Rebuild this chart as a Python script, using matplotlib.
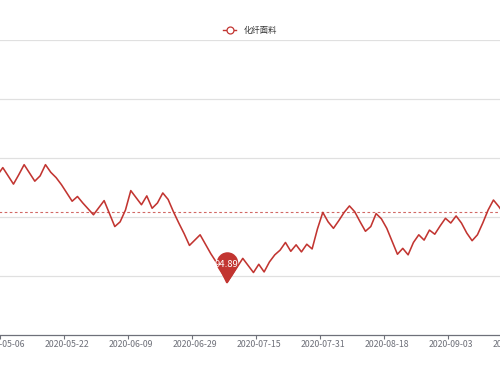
import numpy as np
import matplotlib
matplotlib.use("Agg")
import matplotlib.pyplot as plt
from matplotlib.path import Path
from matplotlib.lines import Line2D

plt.rcParams['font.family'] = ['Noto Sans CJK SC', 'DejaVu Sans']

series_name = "化纤面料"

dates = [
    "2020-04-30",
    "2020-05-06", "2020-05-07", "2020-05-08", "2020-05-11", "2020-05-12", "2020-05-13",
    "2020-05-14", "2020-05-15", "2020-05-18", "2020-05-19", "2020-05-20", "2020-05-21",
    "2020-05-22", "2020-05-25", "2020-05-26", "2020-05-27", "2020-05-28", "2020-05-29",
    "2020-06-01", "2020-06-02", "2020-06-03", "2020-06-04", "2020-06-05", "2020-06-08",
    "2020-06-09", "2020-06-10", "2020-06-11", "2020-06-12", "2020-06-15", "2020-06-16",
    "2020-06-17", "2020-06-18", "2020-06-19", "2020-06-22", "2020-06-23", "2020-06-24",
    "2020-06-29", "2020-06-30", "2020-07-01", "2020-07-02", "2020-07-03", "2020-07-06",
    "2020-07-07", "2020-07-08", "2020-07-09", "2020-07-10", "2020-07-13", "2020-07-14",
    "2020-07-15", "2020-07-16", "2020-07-17", "2020-07-20", "2020-07-21", "2020-07-22",
    "2020-07-23", "2020-07-24", "2020-07-27", "2020-07-28", "2020-07-29", "2020-07-30",
    "2020-07-31", "2020-08-03", "2020-08-04", "2020-08-05", "2020-08-06", "2020-08-07",
    "2020-08-10", "2020-08-11", "2020-08-12", "2020-08-13", "2020-08-14", "2020-08-17",
    "2020-08-18", "2020-08-19", "2020-08-20", "2020-08-21", "2020-08-24", "2020-08-25",
    "2020-08-26", "2020-08-27", "2020-08-28", "2020-08-31", "2020-09-01", "2020-09-02",
    "2020-09-03", "2020-09-04", "2020-09-07", "2020-09-08", "2020-09-09", "2020-09-10",
    "2020-09-11", "2020-09-14", "2020-09-15", "2020-09-16", "2020-09-17", "2020-09-18",
    "2020-09-21",
]

values = [
    96.71,
    96.84, 96.70, 96.56, 96.72, 96.89, 96.75, 96.61, 96.70, 96.89, 96.76,
    96.67, 96.55, 96.41, 96.27, 96.35, 96.24, 96.14, 96.04, 96.16, 96.28,
    96.06, 95.84, 95.92, 96.12, 96.45, 96.33, 96.21, 96.36, 96.15, 96.24,
    96.41, 96.30, 96.09, 95.90, 95.72, 95.52, 95.61, 95.70, 95.54, 95.38,
    95.24, 95.08, 94.89, 95.02, 95.16, 95.30, 95.18, 95.06, 95.20, 95.07,
    95.24, 95.36, 95.44, 95.57, 95.42, 95.53, 95.41, 95.54, 95.46, 95.80,
    96.08, 95.92, 95.81, 95.94, 96.08, 96.19, 96.09, 95.92, 95.76, 95.84,
    96.06, 95.97, 95.81, 95.59, 95.37, 95.47, 95.36, 95.57, 95.70, 95.61,
    95.78, 95.71, 95.85, 95.98, 95.90, 96.02, 95.90, 95.73, 95.60, 95.70,
    95.90, 96.12, 96.29, 96.18, 96.05, 95.95, 95.88,
]

mean_value = 96.09
y_ticks = [94, 95, 96, 97, 98, 99]
label_every = 12
first_label = 1

COLOR = "#c23531"

fig = plt.figure(figsize=(5, 3.75), dpi=100)
W, H = 500, 375
# axes extends beyond figure (cropped view)
ax_left_px, ax_right_px = -50, 550
ax_top_px, ax_bot_px = 40.3, 335
ax = fig.add_axes([ax_left_px / W, (H - ax_bot_px) / H,
                   (ax_right_px - ax_left_px) / W, (ax_bot_px - ax_top_px) / H])

x = np.arange(len(dates))
step = 5.333
x0px = 2.8
ax.set_xlim((ax_left_px - x0px) / step + first_label, (ax_right_px - x0px) / step + first_label)
ax.set_ylim(y_ticks[0], y_ticks[-1])

# grid
for yt in y_ticks[1:]:
    ax.axhline(yt, color="#e0e0e0", lw=0.9, zorder=1)

# mean line
ax.axhline(mean_value, color=COLOR, lw=0.8, linestyle=(0, (2.4, 2.2)), alpha=0.75, zorder=2)

# series line
ax.plot(x, values, color=COLOR, lw=1.15, zorder=3)

# min pin
vals = np.array(values)
imin = int(np.argmin(vals))
c = 1.9
phi = np.degrees(np.arccos(1 / c))
a1, a2 = -90 + phi, 270 - phi
arc = Path.arc(a1, a2)
arc_verts = arc.vertices + np.array([0, c])
verts = np.vstack([[0, 0], arc_verts, [0, 0]])
codes = [Path.MOVETO] + [Path.LINETO] + list(arc.codes[1:]) + [Path.CLOSEPOLY]
pin = Path(verts, codes)
ax.plot([x[imin]], [vals[imin]], marker=pin, markersize=45, color=COLOR,
        markeredgewidth=0, zorder=5, linestyle="none")
ax.annotate(f"{vals[imin]:.2f}", xy=(x[imin], vals[imin]), xytext=(0, 13.2),
            textcoords="offset points", ha="center", va="center", color="white",
            fontsize=6.8, zorder=6)

# axes styling
for s in ["left", "right", "top"]:
    ax.spines[s].set_visible(False)
ax.spines["bottom"].set_color("#6e7079")
ax.spines["bottom"].set_linewidth(0.9)
ax.set_yticks([])

label_idx = list(range(first_label, len(dates), label_every))
ax.set_xticks([i for i in label_idx])
ax.set_xticklabels([dates[i] for i in label_idx], fontsize=6.3, color="#6e7079")
ax.tick_params(axis="x", which="major", length=0, pad=3.5)
ax.set_xticks([i - 0.5 for i in label_idx], minor=True)
ax.tick_params(axis="x", which="minor", length=3, width=0.8, color="#6e7079")

# legend
handle = Line2D([], [], color=COLOR, lw=1.0, marker="o", markersize=5,
                markerfacecolor="white", markeredgecolor=COLOR, markeredgewidth=0.9)
fig.legend([handle], [series_name], loc="center", bbox_to_anchor=(0.5, 1 - 30.7 / H),
           frameon=False, fontsize=6, handlelength=1.5, handletextpad=0.9,
           labelcolor="#333333")

fig.savefig("out.png", dpi=100)
